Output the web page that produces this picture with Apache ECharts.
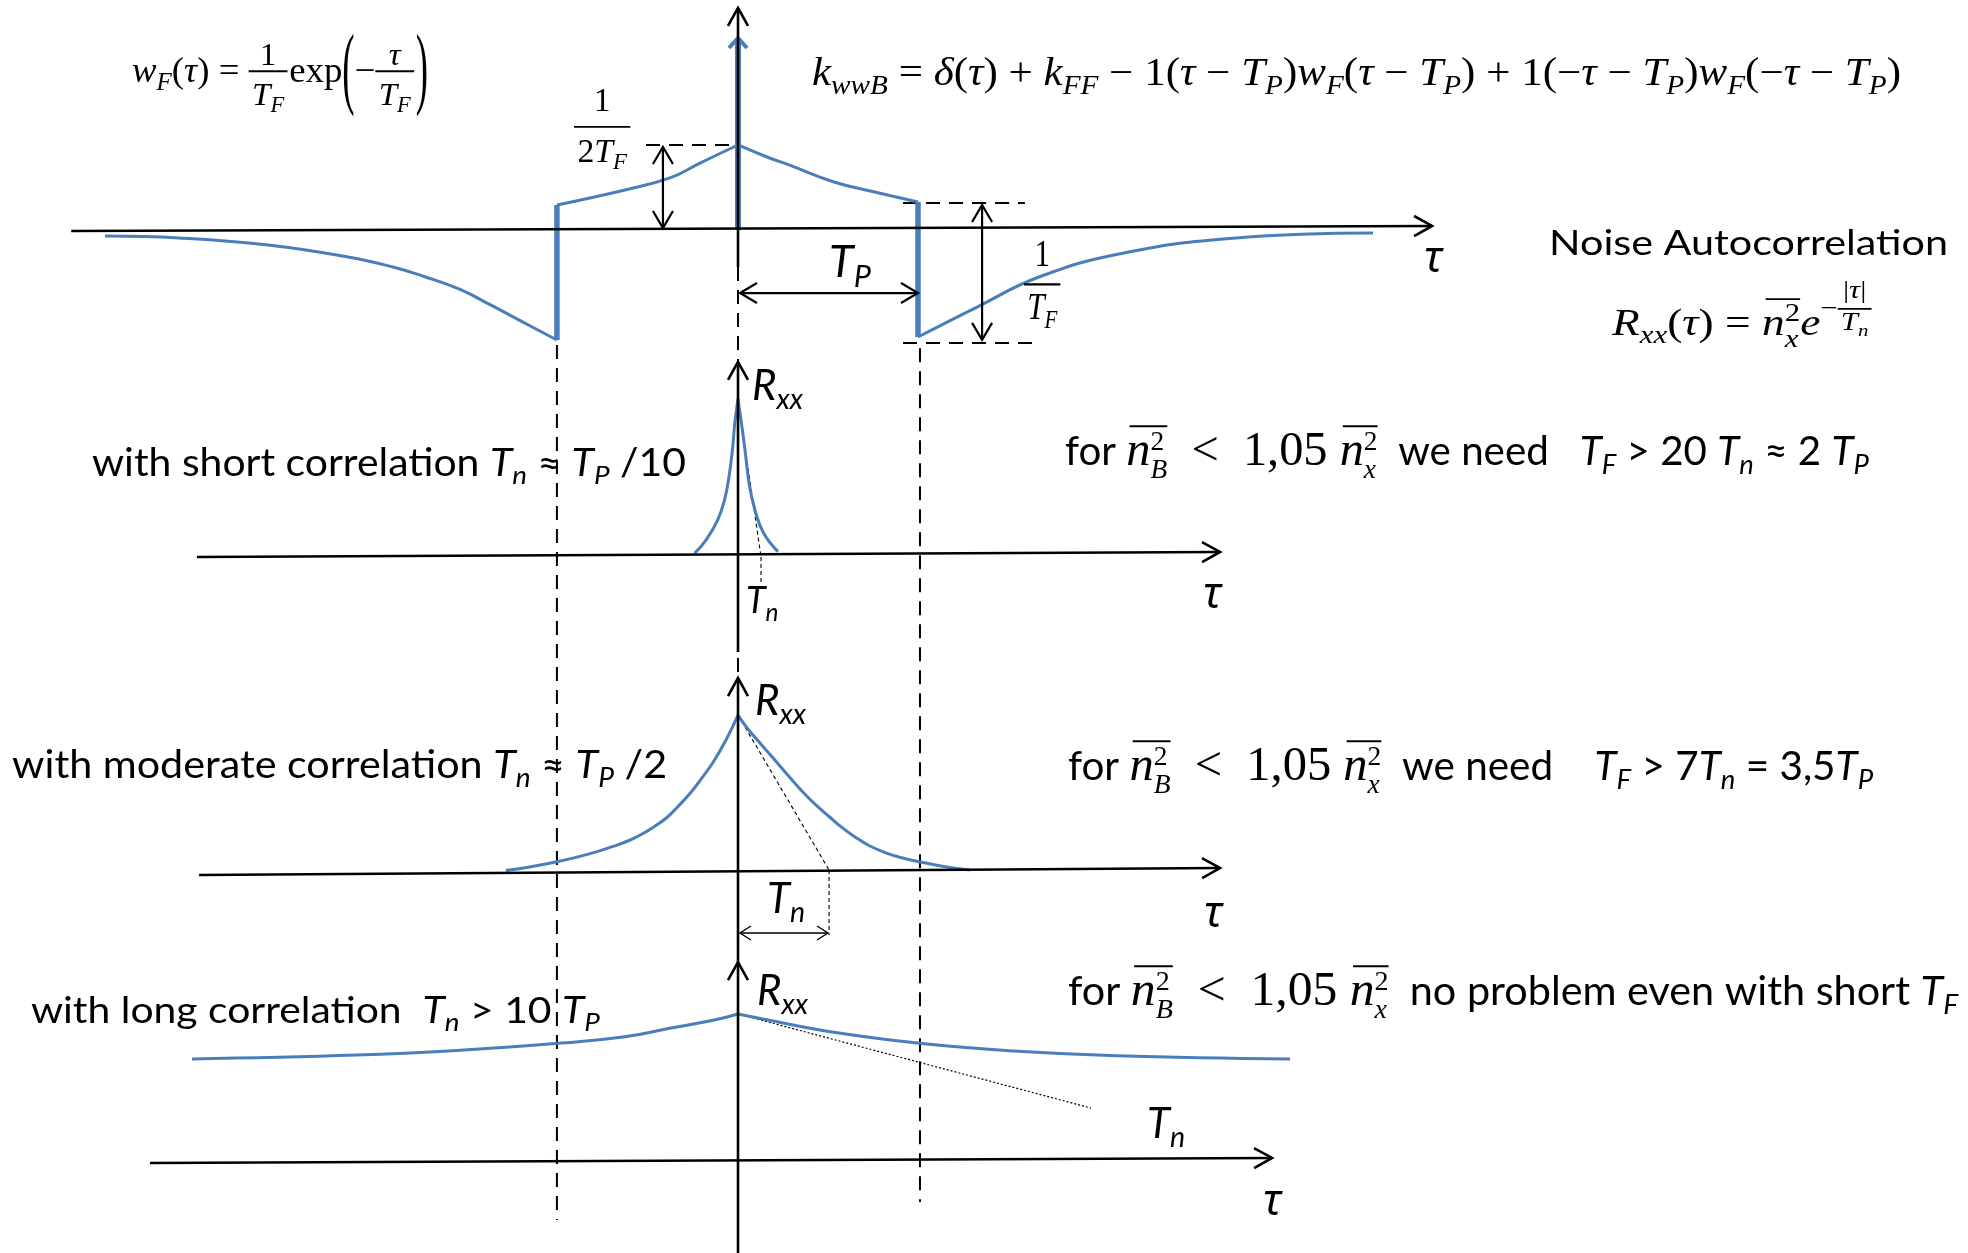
<!DOCTYPE html>
<html>
<head>
<meta charset="utf-8">
<script src="https://cdn.jsdelivr.net/npm/echarts/dist/echarts.min.js"></script>
<style>
  html, body { margin: 0; padding: 0; background: #fff; }
  #main { width: 1968px; height: 1253px; }
</style>
</head>
<body>
<div id="main"></div>
<script>
// Lag τ is measured in units of T_P everywhere.
// Top panel amplitude in units of 1/T_F, the three R_xx panels normalised to n_x^2 = 1.

// ---------- k_wwB(τ) ----------
const kwwLeftTail   = [[-3.517,-0.036],[-3.106,-0.047],[-2.611,-0.089],[-2.167,-0.160],[-1.917,-0.219],[-1.744,-0.275],[-1.544,-0.352],[-1.372,-0.445],[-1.2,-0.542],[-1.006,-0.651]];
const kwwInnerLeft  = [[-1.006,0.148],[-0.628,0.237],[-0.378,0.308],[-0.211,0.396],[0,0.503]];
const kwwInnerRight = [[0,0.503],[0.161,0.432],[0.283,0.385],[0.533,0.284],[0.783,0.219],[1.0,0.166]];
const kwwRightTail  = [[1.0,-0.633],[1.328,-0.456],[1.672,-0.278],[2.144,-0.136],[2.767,-0.047],[3.528,-0.018]];
const kwwStepNeg    = [[-1.006,-0.651],[-1.006,0.148]];
const kwwStepPos    = [[1.0,0.166],[1.0,-0.633]];
const kwwDelta      = [[0,0],[0,1.136]];

// ---------- R_xx(τ) for three correlation times ----------
const rxxShortLeft  = [[-0.241,0.005],[-0.178,0.09],[-0.113,0.219],[-0.075,0.348],[-0.05,0.499],[-0.031,0.671],[-0.018,0.843],[0,1.0]];
const rxxShortRight = [[0,1.0],[0.014,0.886],[0.039,0.671],[0.061,0.458],[0.094,0.284],[0.142,0.135],[0.222,0.015]];
const rxxModLeft    = [[-1.29,0.003],[-1.15,0.028],[-1.013,0.058],[-0.9,0.088],[-0.783,0.125],[-0.69,0.16],[-0.599,0.2],[-0.53,0.24],[-0.461,0.29],[-0.39,0.35],[-0.322,0.43],[-0.26,0.51],[-0.207,0.59],[-0.139,0.70],[-0.069,0.84],[0,1.006]];
const rxxModRight   = [[0,1.006],[0.046,0.93],[0.092,0.866],[0.183,0.745],[0.276,0.62],[0.368,0.50],[0.44,0.418],[0.507,0.35],[0.575,0.283],[0.644,0.224],[0.73,0.163],[0.829,0.114],[0.92,0.082],[1.013,0.058],[1.15,0.028],[1.289,0.006]];
const rxxLongLeft   = [[-3.033,0.652],[-2.117,0.677],[-1.522,0.71],[-1.0,0.753],[-0.628,0.795],[-0.38,0.85],[-0.132,0.903],[0,0.942]];
const rxxLongRight  = [[0,0.942],[0.216,0.892],[0.513,0.828],[1.009,0.753],[1.506,0.705],[2.1,0.673],[3.067,0.652]];

// ---------- axes of each panel ----------
const kwwAxisTau   = [[-3.704,-0.006],[3.856,0.024]];
const kwwAxisAmp   = [[0,-0.219],[0,1.314]];
const shortAxisTau = [[-3.006,-0.019],[2.678,0.013]];
const shortAxisAmp = [[0,-0.632],[0,1.239]];
const modAxisTau   = [[-2.994,-0.026],[2.678,0.019]];
const modAxisAmp   = [[0,-0.587],[0,1.245]];
const longAxisTau  = [[-3.267,-0.019],[2.967,0.013]];
const longAxisAmp  = [[0,-0.6],[0,1.277]];

// ---------- construction lines (top-panel units) ----------
const dropLagZero     = [[0,-0.219],[0,-6.06]];
const dropLagMinusTP  = [[-1.006,-0.68],[-1.006,-5.858]];
const dropLagPlusTP   = [[1.011,-0.70],[1.011,-5.751]];
const levelPeak       = [[-0.511,0.503],[0,0.503]];
const levelStepTop    = [[0.917,0.160],[1.594,0.160]];
const levelStepBottom = [[0.917,-0.669],[1.633,-0.669]];
const dimHalfInvTF    = [[-0.417,0.012],[-0.417,0.491]];
const dimInvTF        = [[1.356,0.148],[1.356,-0.65]];
const dimTP           = [[0.011,-0.373],[1.0,-0.373]];

// ---------- tangents at τ = 0 ----------
const tangentShort = [[0,1.0],[0.128,-0.019]];
const dropShortTn  = [[0.128,-0.019],[0.128,-0.187]];
const tangentMod   = [[0,1.006],[0.506,0.006]];
const dropModTn    = [[0.506,0.006],[0.506,-0.413]];
const dimModTn     = [[0.011,-0.4],[0.5,-0.4]];
const tangentLong  = [[0,0.942],[1.961,0.335]];

// ================= layout / styling =================
const W = 1968, H = 1253;
const TAU_MIN = -4.1, PX_PER_TP = 180;
const panels = [ { zero: 230, unit: 169 }, { zero: 554, unit: 155 }, { zero: 871, unit: 155 }, { zero: 1160, unit: 155 } ];
const BLUE = '#4a7ebb';

const GUIDE_STYLE = {
  dash:     { c: '#000', w: 2,   dash: [14, 9] },
  fine:     { c: '#000', w: 1.1, dash: [4, 3] },
  dot:      { c: '#000', w: 1.2, dash: [2, 2] },
  step:     { c: BLUE,   w: 5.5 },
  spike:    { c: BLUE,   w: 6,   head: [0, 1], len: 10, half: 9, hw: 4 },
  axis:     { c: '#000', w: 2.6, head: [0, 1], len: 18, half: 10 },
  dim:      { c: '#000', w: 2.2, head: [1, 1], len: 17, half: 10 },
  dimSmall: { c: '#000', w: 1.4, head: [1, 1], len: 11, half: 7 }
};
const GUIDE_KINDS = Object.keys(GUIDE_STYLE);

// [panel, segment, style, layer(0 = behind curves, 1 = in front)]
const guides = [
  [0, dropLagZero, 'dash', 0], [0, dropLagMinusTP, 'dash', 0], [0, dropLagPlusTP, 'dash', 0],
  [0, levelPeak, 'dash', 0], [0, levelStepTop, 'dash', 0], [0, levelStepBottom, 'dash', 0],
  [0, kwwStepNeg, 'step', 1], [0, kwwStepPos, 'step', 1], [0, kwwDelta, 'spike', 1],
  [0, kwwAxisTau, 'axis', 1], [0, kwwAxisAmp, 'axis', 1],
  [0, dimHalfInvTF, 'dim', 1], [0, dimInvTF, 'dim', 1], [0, dimTP, 'dim', 1],
  [1, tangentShort, 'fine', 0], [1, dropShortTn, 'fine', 0],
  [1, shortAxisTau, 'axis', 1], [1, shortAxisAmp, 'axis', 1],
  [2, tangentMod, 'fine', 0], [2, dropModTn, 'fine', 0],
  [2, modAxisTau, 'axis', 1], [2, modAxisAmp, 'axis', 1], [2, dimModTn, 'dimSmall', 1],
  [3, tangentLong, 'dot', 0],
  [3, longAxisTau, 'axis', 1], [3, longAxisAmp, 'axis', 1]
];

const curves = [
  [0, kwwLeftTail], [0, kwwInnerLeft], [0, kwwInnerRight], [0, kwwRightTail],
  [1, rxxShortLeft], [1, rxxShortRight],
  [2, rxxModLeft], [2, rxxModRight],
  [3, rxxLongLeft], [3, rxxLongRight]
];

// ---------- small math-text typesetter ----------
const SERIF = '"Liberation Serif","DejaVu Serif",serif';
const SANS = 'Lato,"Noto Sans","DejaVu Sans",sans-serif';
const FACES = {
  mi: ['italic', SERIF], mr: ['normal', SERIF],
  si: ['italic', SANS],  sr: ['normal', SANS],
  gi: ['italic', '"Noto Sans","DejaVu Sans",sans-serif']
};
const fontOf = (f, px) => FACES[f][0] + ' ' + px.toFixed(2) + 'px ' + FACES[f][1];
const I  = (t, z) => ({ k: 't', f: 'mi', t, z });
const R  = (t, z) => ({ k: 't', f: 'mr', t, z });
const S  = (t, z) => ({ k: 't', f: 'sr', t, z });
const SI = (t, z) => ({ k: 't', f: 'si', t, z });
const G  = (t, z) => ({ k: 't', f: 'gi', t, z });
const Sub = (...n) => ({ k: 'ss', sub: n });
const SubSup = (sub, sup) => ({ k: 'ss', sub, sup });
const Raise = (up, ...n) => ({ k: 'ss', sup: n, up });
const Frac = (num, den, opt) => Object.assign({ k: 'frac', num, den }, opt || {});
const Big = (t, z) => ({ k: 'big', t, z });
const Over = (...n) => ({ k: 'over', body: n });

const mctx = document.createElement('canvas').getContext('2d');
function textW(t, font) { mctx.font = font; return mctx.measureText(t).width; }
const midCache = {};
function midShift(font) {
  if (midCache[font] != null) return midCache[font];
  mctx.font = font;
  mctx.textBaseline = 'alphabetic';
  const a = mctx.measureText('x').actualBoundingBoxDescent;
  mctx.textBaseline = 'middle';
  const m = mctx.measureText('x').actualBoundingBoxDescent;
  mctx.textBaseline = 'alphabetic';
  return (midCache[font] = m - a);
}

function lay(nodes, s, out, x0, yb) {
  let x = x0;
  for (const n of nodes) {
    if (n.k === 't') {
      const font = fontOf(n.f, s * (n.z || 1));
      if (out) out.texts.push({ t: n.t, font, x, y: yb });
      x += textW(n.t, font);
    } else if (n.k === 'ss') {
      const ss = s * 0.68;
      let w = 0;
      if (n.sup) w = Math.max(w, lay(n.sup, ss, out, x, yb - (n.up != null ? n.up : 0.38) * s) - x);
      if (n.sub) w = Math.max(w, lay(n.sub, ss, out, x, yb + (n.sup ? 0.32 : 0.22) * s) - x);
      x += w;
    } else if (n.k === 'frac') {
      const fs = s * (n.z || 1);
      const wn = lay(n.num, fs, null, 0, 0), wd = lay(n.den, fs, null, 0, 0);
      const pad = 0.1 * fs, Wf = Math.max(wn, wd) + 2 * pad;
      const bar = yb - 0.3 * s;
      lay(n.num, fs, out, x + (Wf - wn) / 2, bar - (n.ng != null ? n.ng : 0.2) * fs);
      lay(n.den, fs, out, x + (Wf - wd) / 2, bar + (n.dg != null ? n.dg : 1.05) * fs);
      if (out) out.rules.push([x, x + Wf, bar, Math.max(1.6, 0.055 * s)]);
      x += Wf + 0.05 * fs;
    } else if (n.k === 'big') {
      // delimiter stretched vertically, centred slightly below the math axis
      const font = fontOf('mr', s);
      if (out) out.texts.push({ t: n.t, font, x, y: yb - 0.18 * s, sy: n.z, px: s });
      x += textW(n.t, font);
    } else if (n.k === 'over') {
      const x1 = lay(n.body, s, out, x, yb);
      if (out) out.rules.push([x + 0.08 * s, x1, yb - 0.97 * s, Math.max(1.5, 0.05 * s)]);
      x = x1;
    }
  }
  return x;
}

const nBarB = z => Over(I('n', z), SubSup([I('B')], [R('2')]));
const nBarX = z => Over(I('n', z), SubSup([I('x')], [R('2')]));
const TF = () => [I('T'), Sub(I('F'))];
const MZ = 1.2;   // math glyphs inside the sans sentences run a little larger

// Text blocks: panel, τ of left / right edge (right null = natural width), baseline, font size, content
const labels = [
  { p: 0, x: [-3.367, -1.722], y: 0.876, s: 36, n: [I('w'), Sub(I('F')), R('('), I('τ'), R(')'), R(' = '),
      Frac([R('1')], TF(), { z: 0.9 }), R('exp'), Big('(', 2.5), R('−'), Frac([I('τ')], TF(), { z: 0.9 }), Big(')', 2.5)] },
  { p: 0, x: [0.411, 6.461], y: 0.858, s: 39, n: [I('k'), Sub(I('wwB')), R(' = '), I('δ'), R('('), I('τ'), R(') + '), I('k'), Sub(I('FF')),
      R(' − 1('), I('τ'), R(' − '), I('T'), Sub(I('P')), R(')'), I('w'), Sub(I('F')), R('('), I('τ'), R(' − '), I('T'), Sub(I('P')),
      R(') + 1(−'), I('τ'), R(' − '), I('T'), Sub(I('P')), R(')'), I('w'), Sub(I('F')), R('(−'), I('τ'), R(' − '), I('T'), Sub(I('P')), R(')')] },
  { p: 0, x: [-0.911, -0.589], y: 0.550, s: 34, n: [Frac([R('1')], [R('2'), I('T'), Sub(I('F'))], { ng: 0.47, dg: 1.03 })] },
  { p: 0, x: [1.589, 1.8], y: -0.389, s: 38, n: [Frac([R('1')], TF(), { ng: 0.47, dg: 0.92 })] },
  { p: 0, x: [0.506, null], y: -0.278, s: 45, n: [SI('T'), Sub(SI('P'))] },
  { p: 0, x: [3.811, null], y: -0.249, s: 43, n: [G('τ')] },
  { p: 0, x: [4.506, 6.722], y: -0.148, s: 35, n: [S('Noise Autocorrelation')] },
  { p: 0, x: [4.856, 6.306], y: -0.621, s: 37, n: [I('R'), Sub(I('xx')), R('('), I('τ'), R(') = '), nBarX(), I('e'),
      Raise(0.5, R('−'), Frac([R('|'), I('τ'), R('|')], [I('T'), Sub(I('n'))], { ng: 0.45, dg: 0.85 }))] },

  { p: 1, x: [0.078, null], y: 0.994, s: 42, n: [SI('R'), Sub(SI('xx'))] },
  { p: 1, x: [-3.589, -0.289], y: 0.503, s: 38, n: [S('with short correlation '), SI('T'), Sub(SI('n')), S(' ≈ '), SI('T'), Sub(SI('P')), S(' /10')] },
  { p: 1, x: [1.817, 6.283], y: 0.574, s: 40, n: [S('for '), nBarB(MZ), R('  <  1,05 ', MZ), nBarX(MZ), S('  we need   '), SI('T'), Sub(SI('F')),
      S(' > 20 '), SI('T'), Sub(SI('n')), S(' ≈ 2 '), SI('T'), Sub(SI('P'))] },
  { p: 1, x: [2.583, null], y: -0.348, s: 43, n: [G('τ')] },
  { p: 1, x: [0.044, null], y: -0.381, s: 36, n: [SI('T'), Sub(SI('n'))] },

  { p: 2, x: [0.094, null], y: 1.006, s: 42, n: [SI('R'), Sub(SI('xx'))] },
  { p: 2, x: [-4.033, -0.394], y: 0.6, s: 39, n: [S('with moderate correlation '), SI('T'), Sub(SI('n')), S(' ≈ '), SI('T'), Sub(SI('P')), S(' /2')] },
  { p: 2, x: [1.833, 6.306], y: 0.587, s: 40, n: [S('for '), nBarB(MZ), R('  <  1,05 ', MZ), nBarX(MZ), S('  we need    '), SI('T'), Sub(SI('F')),
      S(' > 7'), SI('T'), Sub(SI('n')), S(' = 3,5'), SI('T'), Sub(SI('P'))] },
  { p: 2, x: [2.589, null], y: -0.361, s: 43, n: [G('τ')] },
  { p: 2, x: [0.161, null], y: -0.271, s: 42, n: [SI('T'), Sub(SI('n'))] },

  { p: 3, x: [0.106, null], y: 1.0, s: 42, n: [SI('R'), Sub(SI('xx'))] },
  { p: 3, x: [-3.928, -0.767], y: 0.884, s: 37, n: [S('with long correlation  '), SI('T'), Sub(SI('n')), S(' > 10 '), SI('T'), Sub(SI('P'))] },
  { p: 3, x: [1.833, 6.778], y: 1.0, s: 40, n: [S('for '), nBarB(MZ), R('  <  1,05 ', MZ), nBarX(MZ), S('  no problem even with short '), SI('T'), Sub(SI('F'))] },
  { p: 3, x: [2.272, null], y: 0.142, s: 42, n: [SI('T'), Sub(SI('n'))] },
  { p: 3, x: [2.917, null], y: -0.355, s: 43, n: [G('τ')] }
];

function draw() {
  const blocks = labels.map(L => {
    const out = { texts: [], rules: [] };
    const w = lay(L.n, L.s, out, 0, 0);
    return { out, w };
  });

  function guideItem(params, api) {
    const st = GUIDE_STYLE[GUIDE_KINDS[api.value(4)]];
    const a = api.coord([api.value(0), api.value(1)]);
    const b = api.coord([api.value(2), api.value(3)]);
    const children = [{
      type: 'line', silent: true,
      shape: { x1: a[0], y1: a[1], x2: b[0], y2: b[1] },
      style: { stroke: st.c, lineWidth: st.w, lineDash: st.dash || null, fill: 'none' }
    }];
    if (st.head) {
      const dx = b[0] - a[0], dy = b[1] - a[1], L = Math.hypot(dx, dy);
      const ux = dx / L, uy = dy / L, nx = -uy, ny = ux;
      const head = (t, sg) => ({
        type: 'polyline', silent: true,
        shape: { points: [
          [t[0] - sg * st.len * ux + st.half * nx, t[1] - sg * st.len * uy + st.half * ny],
          [t[0], t[1]],
          [t[0] - sg * st.len * ux - st.half * nx, t[1] - sg * st.len * uy - st.half * ny]
        ] },
        style: { stroke: st.c, lineWidth: st.hw || st.w, fill: 'none', lineJoin: 'miter' }
      });
      if (st.head[1]) children.push(head(b, 1));
      if (st.head[0]) children.push(head(a, -1));
    }
    return { type: 'group', children };
  }

  const textStyle = (t, font) => ({ text: t, font, fill: '#000', textAlign: 'left', textVerticalAlign: 'middle', align: 'left', verticalAlign: 'middle' });

  function labelItem(params, api) {
    const i = api.value(3);
    const L = labels[i], B = blocks[i];
    const p0 = api.coord([L.x[0], L.y]);
    let sx = 1;
    if (L.x[1] != null) {
      const p1 = api.coord([L.x[1], L.y]);
      sx = (p1[0] - p0[0]) / B.w;
    }
    const children = B.out.texts.map(t => {
      if (t.sy) {
        // stretched delimiter: glyph centre placed at the local origin, then scaled vertically
        return {
          type: 'group', x: t.x, y: t.y, scaleY: t.sy,
          children: [{ type: 'text', silent: true, x: 0, y: 0.24 * t.px - midShift(t.font), style: textStyle(t.t, t.font) }]
        };
      }
      return { type: 'text', silent: true, x: t.x, y: t.y - midShift(t.font), style: textStyle(t.t, t.font) };
    });
    B.out.rules.forEach(r => children.push({
      type: 'rect', silent: true,
      shape: { x: r[0], y: r[2] - r[3] / 2, width: r[1] - r[0], height: r[3] },
      style: { fill: '#000' }
    }));
    return { type: 'group', x: p0[0], y: p0[1], scaleX: sx, children };
  }

  const series = [];
  panels.forEach((p, pi) => {
    [0, 1].forEach(layer => {
      const data = guides.filter(g => g[0] === pi && g[3] === layer)
        .map(g => [g[1][0][0], g[1][0][1], g[1][1][0], g[1][1][1], GUIDE_KINDS.indexOf(g[2])]);
      series.push({
        type: 'custom', xAxisIndex: pi, yAxisIndex: pi, data, renderItem: guideItem,
        z: layer ? 4 : 1, silent: true, animation: false, clip: false
      });
    });
    curves.filter(c => c[0] === pi).forEach(c => series.push({
      type: 'line', xAxisIndex: pi, yAxisIndex: pi, data: c[1],
      showSymbol: false, symbol: 'none', smooth: 0.45,
      lineStyle: { color: BLUE, width: 3 }, z: 3, silent: true, animation: false, clip: false
    }));
    series.push({
      type: 'custom', xAxisIndex: pi, yAxisIndex: pi,
      data: labels.map((L, i) => [L.x[0], L.y, 0, i]).filter(d => labels[d[3]].p === pi),
      renderItem: labelItem, z: 5, silent: true, animation: false, clip: false
    });
  });

  const chart = echarts.init(document.getElementById('main'), null, { renderer: 'canvas', width: W, height: H });
  chart.setOption({
    backgroundColor: '#ffffff',
    animation: false,
    grid: panels.map(() => ({ left: 0, right: 0, top: 0, bottom: 0, containLabel: false })),
    xAxis: panels.map((p, i) => ({ type: 'value', gridIndex: i, min: TAU_MIN, max: TAU_MIN + W / PX_PER_TP, show: false })),
    yAxis: panels.map((p, i) => ({ type: 'value', gridIndex: i, min: -(H - p.zero) / p.unit, max: p.zero / p.unit, show: false })),
    series
  });
}

if (document.fonts && document.fonts.ready) document.fonts.ready.then(draw); else draw();
</script>
</body>
</html>
